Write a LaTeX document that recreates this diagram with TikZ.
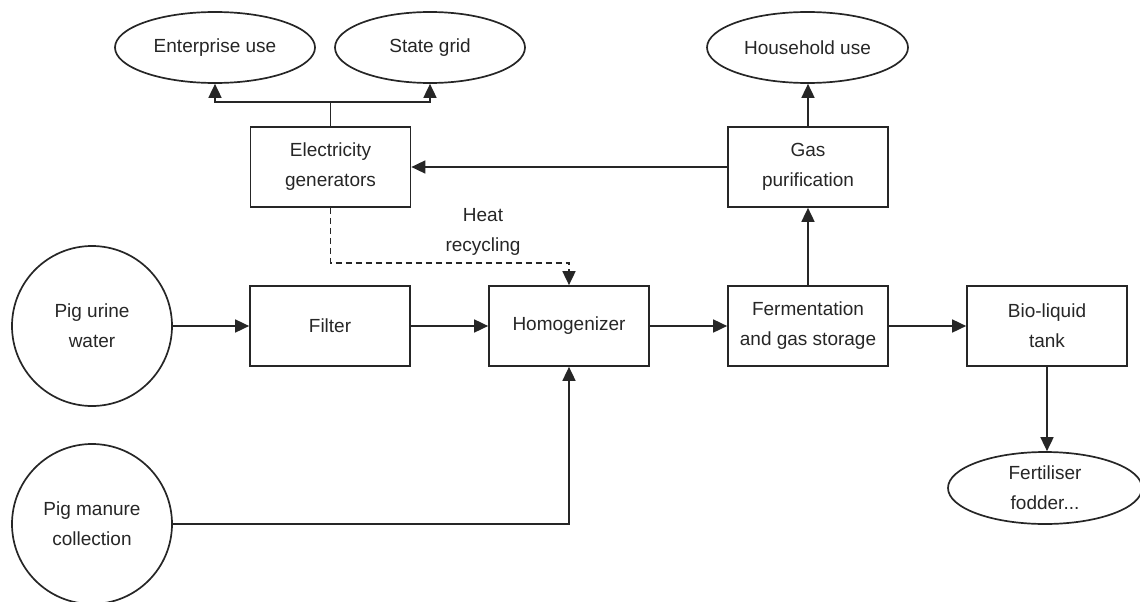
\documentclass[tikz,border=0pt]{standalone}
\usepackage{fontspec}
\setmainfont{Liberation Sans}
\usetikzlibrary{shapes.geometric,arrows.meta}
\begin{document}
\begin{tikzpicture}[x=1pt,y=-1pt,
  every node/.style={font=\fontsize{19}{30}\selectfont, text=black!85, align=center},
  box/.style={draw=black!85, line width=1.7pt, rectangle, minimum width=160pt, minimum height=80pt, inner sep=0pt},
  oval/.style={draw=black!85, line width=1.7pt, ellipse, inner sep=0pt},
  line/.style={line width=1.7pt, draw=black!85},
  arr/.style={line, -{Triangle[length=14pt,width=13pt]}},
  darr/.style={arr, dash pattern=on 6pt off 4pt}]
\useasboundingbox (0,0) rectangle (1140,602);
% top ellipses
\node[oval, minimum width=200pt, minimum height=71pt] (ent) at (215,47.5) {Enterprise use};
\node[oval, minimum width=190pt, minimum height=71pt] (grid) at (430,47.5) {State grid};
\node[oval, minimum width=201pt, minimum height=71pt] (house) at (807.5,47.5) {Household use};
% boxes
\node[box] (elec) at (330.5,167) {Electricity\\generators};
\node[box] (gas) at (808,167) {Gas\\purification};
\node[box] (filter) at (330,326) {Filter};
\node[box] (homog) at (569,326) {Homogenizer};
\node[box] (ferm) at (808,326) {Fermentation\\and gas storage};
\node[box] (bio) at (1047,326) {Bio-liquid\\tank};
% sources
\node[oval, minimum width=160pt, minimum height=160pt] (urine) at (92,326) {Pig urine\\water};
\node[oval, minimum width=160pt, minimum height=160pt] (manure) at (92,524) {Pig manure\\collection};
% product
\node[oval, minimum width=194pt, minimum height=72pt] (fert) at (1045,488) {Fertiliser\\fodder...};
% label
\node (heat) at (483,232) {Heat\\recycling};
% connectors
\draw[arr] (urine.east) -- (filter.west);
\draw[arr] (filter.east) -- (homog.west);
\draw[arr] (homog.east) -- (ferm.west);
\draw[arr] (ferm.east) -- (bio.west);
\draw[arr] (ferm.north) -- (gas.south);
\draw[arr] (gas.north) -- (gas.north |- house.south);
\draw[arr] (gas.west) -- (elec.east);
\draw[arr] (bio.south) -- (bio.south |- fert.north);
\draw[arr] (manure.east) -| (homog.south);
\draw[darr] (elec.south) -- ++(0,55) -| (homog.north);
\draw[line] (elec.north) -- ++(0,-24) coordinate (split);
\draw[arr] (split) -| (ent.south);
\draw[arr] (split) -| (grid.south);
\end{tikzpicture}
\end{document}
